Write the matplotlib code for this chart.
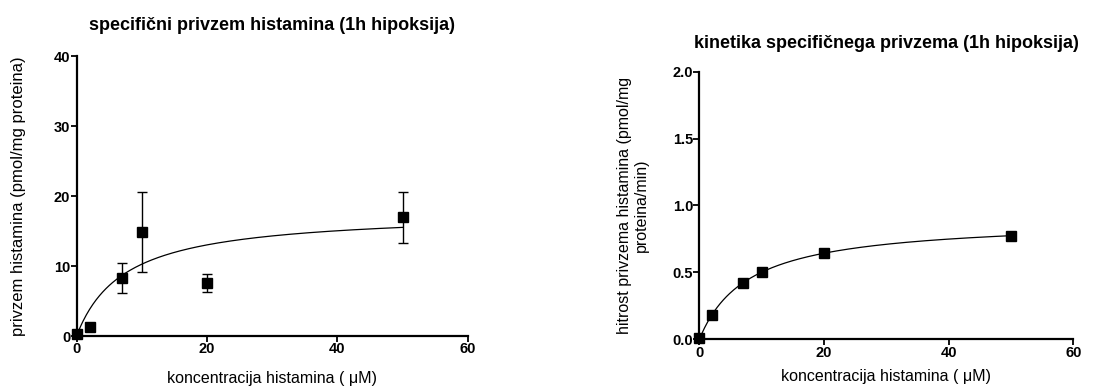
import matplotlib
matplotlib.use("Agg")
import matplotlib.pyplot as plt
import numpy as np

plt.rcParams['font.family'] = ['Liberation Sans', 'DejaVu Sans']

# Left chart data (specific uptake)
conc = [0, 2, 7, 10, 20, 50]
uptake = [0.3, 1.3, 8.3, 14.9, 7.6, 16.95]
uptake_err = [0.0, 0.0, 2.1, 5.7, 1.3, 3.65]
uptake_vmax = 17.8
uptake_km = 7.35

# Right chart data (kinetics)
rate = [0.01, 0.18, 0.42, 0.50, 0.643, 0.774]
rate_vmax = 0.896
rate_km = 7.86

left_title = "specifični privzem histamina (1h hipoksija)"
right_title = "kinetika specifičnega privzema (1h hipoksija)"
xlabel = "koncentracija histamina ( μM)"
left_ylabel = "privzem histamina (pmol/mg proteina)"
right_ylabel = "hitrost privzema histamina (pmol/mg\nproteina/min)"
x_ticks = [0, 20, 40, 60]
x_ticklabels = ['0', '20', '40', '60']
left_yticks = [0, 10, 20, 30, 40]
left_yticklabels = ['0', '10', '20', '30', '40']
right_yticks = [0.0, 0.5, 1.0, 1.5, 2.0]
right_yticklabels = ['0.0', '0.5', '1.0', '1.5', '2.0']

fig = plt.figure(figsize=(11.19, 3.89), dpi=100)
ax1 = fig.add_axes([0.0684, 0.1362, 0.3496, 0.7198])
ax2 = fig.add_axes([0.625, 0.1278, 0.3342, 0.688])

TICK_FS = 10.5


def style(ax):
    for s in ['top', 'right']:
        ax.spines[s].set_visible(False)
    for s in ['left', 'bottom']:
        ax.spines[s].set_linewidth(1.6)
    ax.tick_params(axis='both', direction='out', length=4, width=1.3, pad=0.5)


xs = np.linspace(0, 50, 300)

# left
ax1.errorbar(conc, uptake, yerr=uptake_err, fmt='s', color='black',
             markersize=6.5, capsize=3.5, elinewidth=1.0, capthick=1.0,
             clip_on=False, zorder=3)
ax1.plot(xs, uptake_vmax * xs / (uptake_km + xs), color='black', lw=0.9)
ax1.set_xlim(0, 60)
ax1.set_ylim(0, 40)
ax1.set_xticks(x_ticks)
ax1.set_xticklabels(x_ticklabels, fontweight='bold', fontsize=TICK_FS)
ax1.set_yticks(left_yticks)
ax1.set_yticklabels(left_yticklabels, fontweight='bold', fontsize=TICK_FS)
style(ax1)
ax1.set_title(left_title, fontsize=13, fontweight='bold', pad=19)
ax1.set_xlabel(xlabel, fontsize=11.5)
ax1.xaxis.set_label_coords(0.5, -0.125)
ax1.set_ylabel(left_ylabel, fontsize=12)
ax1.yaxis.set_label_coords(-0.129, 0.5)

# right
ax2.plot(conc, rate, 's', color='black', markersize=6.5, clip_on=False, zorder=3)
ax2.plot(xs, rate_vmax * xs / (rate_km + xs), color='black', lw=0.9)
ax2.set_xlim(0, 60)
ax2.set_ylim(0, 2.0)
ax2.set_xticks(x_ticks)
ax2.set_xticklabels(x_ticklabels, fontweight='bold', fontsize=TICK_FS)
ax2.set_yticks(right_yticks)
ax2.set_yticklabels(right_yticklabels, fontweight='bold', fontsize=TICK_FS)
style(ax2)
ax2.set_title(right_title, fontsize=13, fontweight='bold', pad=17)
ax2.set_xlabel(xlabel, fontsize=11.5)
ax2.xaxis.set_label_coords(0.5, -0.112)
ax2.set_ylabel(right_ylabel, fontsize=11.5)
ax2.yaxis.set_label_coords(-0.134, 0.5)

fig.savefig("out.png", dpi=100)
